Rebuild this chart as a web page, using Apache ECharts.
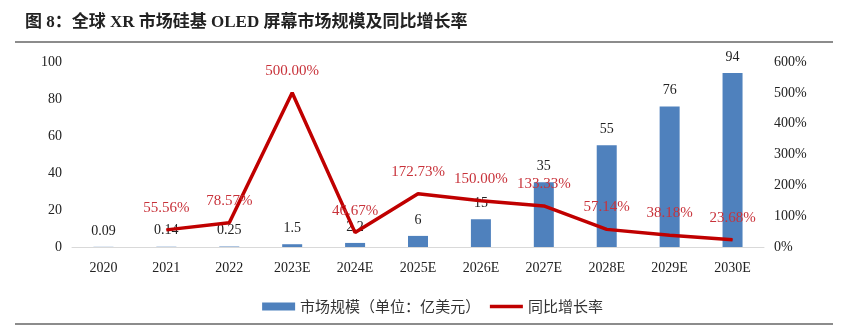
<!DOCTYPE html>
<html><head><meta charset="utf-8">
<script src="https://cdn.jsdelivr.net/npm/echarts@6/dist/echarts.min.js"></script>
<style>html,body{margin:0;padding:0;background:#fff}#c{width:865px;height:327px}</style>
</head><body><div id="c"></div>
<script>
var categories = ['2020','2021','2022','2023E','2024E','2025E','2026E','2027E','2028E','2029E','2030E'];
var marketSize = [0.09,0.14,0.25,1.5,2.2,6,15,35,55,76,94];
var growthRate = [null,55.56,78.57,500.00,46.67,172.73,150.00,133.33,57.14,38.18,23.68];
var leftTicks = {min:0,max:100,interval:20};
var rightTicks = {min:0,max:600,interval:100};
var titleText = '图 8：全球 XR 市场硅基 OLED 屏幕市场规模及同比增长率';
var seriesNames = ['市场规模（单位：亿美元）','同比增长率'];

var serif = '"Liberation Serif","Times New Roman","Noto Sans CJK SC",serif';
var chart = echarts.init(document.getElementById('c'));
chart.setOption({
  animation:false,
  graphic:[
    {type:'text',left:25,top:14,style:{text:titleText,font:'bold 17px "Liberation Serif","Noto Sans CJK SC",serif',fill:'#222'}},
    {type:'rect',shape:{x:15,y:41,width:818,height:2},style:{fill:'#8c8c8c'}},
    {type:'rect',shape:{x:15,y:323,width:818,height:2},style:{fill:'#8c8c8c'}}
  ],
  legend:{
    top:294,left:'center',itemGap:8,
    textStyle:{fontSize:15,color:'#333',fontFamily:'"Noto Sans CJK SC",sans-serif'},
    data:[{name:seriesNames[0],icon:'rect',itemStyle:{color:'#4f81bd'}},
          {name:seriesNames[1],itemStyle:{opacity:0},lineStyle:{width:3.5,color:'#c00000'}}],
    itemWidth:33,itemHeight:8
  },
  grid:{left:72,right:101,top:62,bottom:80},
  xAxis:{type:'category',data:categories,
    axisLine:{lineStyle:{color:'#d9d9d9',width:1}},axisTick:{show:false},
    axisLabel:{color:'#222',fontSize:14,fontFamily:serif,margin:14}},
  yAxis:[
    {type:'value',min:leftTicks.min,max:leftTicks.max,interval:leftTicks.interval,splitLine:{show:false},
     axisLine:{show:false},axisTick:{show:false},
     axisLabel:{color:'#222',fontSize:14,fontFamily:serif,margin:10}},
    {type:'value',min:rightTicks.min,max:rightTicks.max,interval:rightTicks.interval,splitLine:{show:false},
     axisLine:{show:false},axisTick:{show:false},
     axisLabel:{color:'#222',fontSize:14,fontFamily:serif,margin:10,formatter:'{value}%'}}
  ],
  series:[
    {name:seriesNames[0],type:'bar',data:marketSize,barWidth:20,
     itemStyle:{color:'#4f81bd'},
     label:{show:true,position:'top',distance:9,color:'#222',fontSize:14,fontFamily:serif}},
    {name:seriesNames[1],type:'line',yAxisIndex:1,data:growthRate,symbol:'circle',symbolSize:1,
     lineStyle:{color:'#c00000',width:3.5},itemStyle:{color:'#c00000'},
     label:{show:true,position:'top',distance:14,color:'#c8323a',fontSize:15,fontFamily:serif,
       formatter:function(p){return p.value==null?'':p.value.toFixed(2)+'%';}}}
  ]
});
</script></body></html>
